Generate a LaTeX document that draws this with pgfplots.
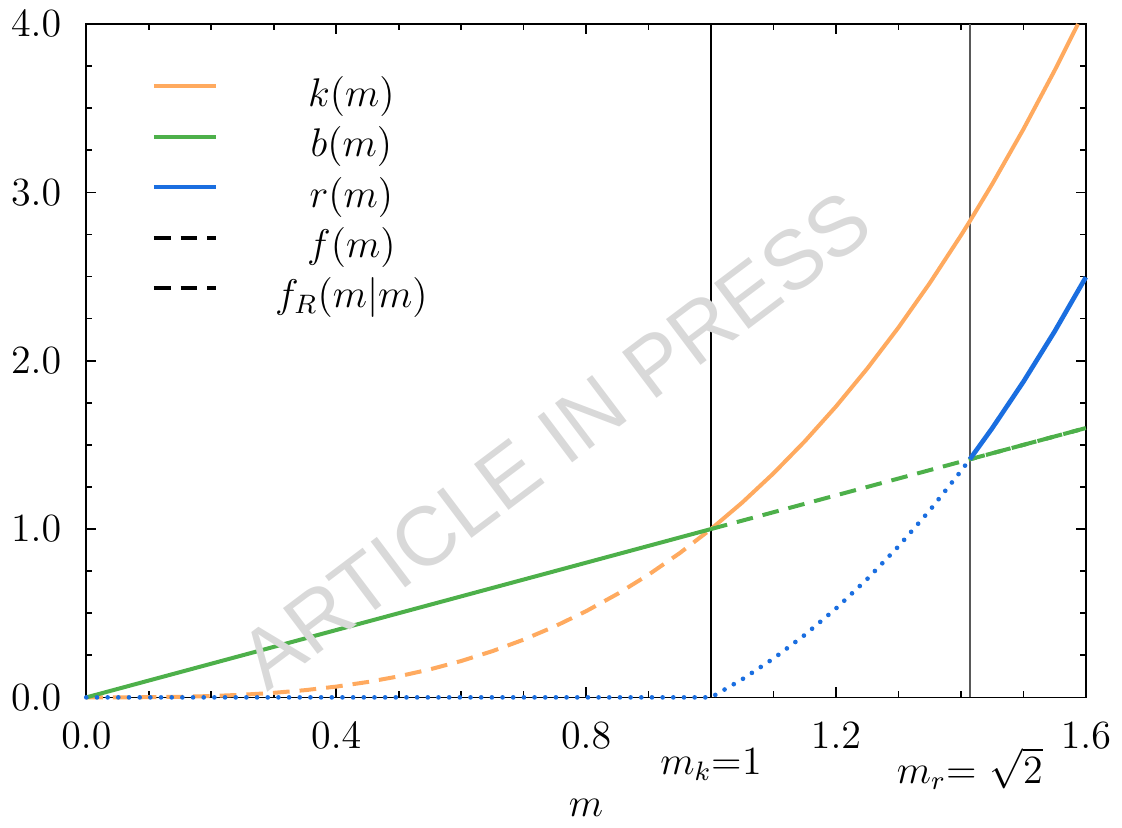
\documentclass[border=0pt]{standalone}
\usepackage{fontspec}
\newfontfamily\wmfont{Liberation Sans}
\usepackage{pgfplots}
\pgfplotsset{compat=1.18}

\definecolor{korange}{RGB}{255,170,95}
\definecolor{bgreen}{RGB}{77,176,74}
\definecolor{rblue}{RGB}{26,110,224}

\begin{document}
\begin{tikzpicture}[font=\fontsize{12}{14}\selectfont]
\begin{axis}[
    scale only axis,
    width=299.7pt, height=201.9pt,
    xmin=0, xmax=1.6, ymin=0, ymax=4,
    clip=false,
    axis line style={line width=0.5pt},
    xtick={0,0.4,0.8,1.2,1.6},
    ytick={0,1,2,3,4},
    minor x tick num=3,
    minor y tick num=3,
    tick align=inside,
    major tick length=3pt,
    minor tick length=1.8pt,
    tick style={line width=0.5pt, black},
    /pgf/number format/.cd, fixed, fixed zerofill, precision=1, /pgfplots/.cd,
    ticklabel style={font=\fontsize{12}{14}\selectfont},
    xticklabel style={yshift=-4pt},
    yticklabel style={xshift=-4pt},
    extra x ticks={1,1.41421},
    extra x tick labels={$m_k$=1, $m_r$= $\sqrt{2}$},
    extra x tick style={tick label style={yshift=-7.5pt}},
    xlabel={$m$},
    xlabel style={yshift=4pt},
    legend cell align=center,
    legend style={draw=none, fill=none, at={(rel axis cs:0.055,0.933)}, anchor=north west,
        column sep=17.1pt, row sep=3.1pt,
        font=\fontsize{12}{14}\selectfont,
        nodes={inner sep=0pt, text height=9pt, text depth=3pt}},
    legend image code/.code={\draw[#1] (0pt,0.3em) -- (18.6pt,0.3em);},
]
\addlegendimage{korange, line width=1.2pt}
\addlegendentry{$k(m)$}
\addlegendimage{bgreen, line width=1.2pt}
\addlegendentry{$b(m)$}
\addlegendimage{rblue, line width=1.2pt}
\addlegendentry{$r(m)$}
\addlegendimage{black, line width=1.2pt, dash pattern=on 5pt off 3pt}
\addlegendentry{$f(m)$}
\addlegendimage{black, line width=1.2pt, dash pattern=on 5pt off 3pt}
\addlegendentry{$f_R(m|m)$}

% vertical guides
\addplot[forget plot, black, line width=0.5pt] coordinates {(1,0) (1,4)};
\addplot[forget plot, black!65, line width=0.5pt] coordinates {(1.41421,0) (1.41421,4)};

% k(m): dashed below m_k, solid above
\addplot[forget plot, korange, line width=1.2pt, dash pattern=on 5pt off 3pt] coordinates {
(0,0) (0.05,0.000125) (0.1,0.001) (0.15,0.003375) (0.2,0.008) (0.25,0.015625)
(0.3,0.027) (0.35,0.042875) (0.4,0.064) (0.45,0.091125) (0.5,0.125)
(0.55,0.166375) (0.6,0.216) (0.65,0.274625) (0.7,0.343) (0.75,0.421875)
(0.8,0.512) (0.85,0.614125) (0.9,0.729) (0.95,0.857375) (1,1)};
\addplot[forget plot, korange, line width=1.2pt] coordinates {
(1,1) (1.05,1.157625) (1.1,1.331) (1.15,1.520875) (1.2,1.728) (1.25,1.953125)
(1.3,2.197) (1.35,2.460375) (1.4,2.744) (1.41421,2.8284) (1.45,3.048625)
(1.5,3.375) (1.55,3.723875) (1.5874,4.0)};

% b(m)
\addplot[forget plot, bgreen, line width=1.2pt] coordinates {(0,0) (1,1)};
\addplot[forget plot, bgreen, line width=1.2pt, dash pattern=on 5pt off 3pt] coordinates {(1,1) (1.6,1.6)};
\addplot[forget plot, bgreen, line width=1.2pt, dash pattern=on 5pt off 3pt, dash phase=3pt] coordinates {(1.41421,1.41421) (1.6,1.6)};

% r(m)
\addplot[forget plot, rblue, line width=1.4pt, line cap=round, dash pattern=on 0pt off 3.2pt] coordinates {
(0,0) (1,0) (1.05,0.107625) (1.1,0.231) (1.15,0.370875) (1.2,0.528)
(1.25,0.703125) (1.3,0.897) (1.35,1.110375) (1.4,1.344) (1.41421,1.41421)};
\addplot[forget plot, rblue, line width=1.4pt] coordinates {
(1.41421,1.41421) (1.45,1.598625) (1.5,1.875) (1.55,2.173875) (1.6,2.496)};

\node[rotate=37, text=black!15, font=\wmfont\fontsize{25}{25}\selectfont] at (rel axis cs:0.469,0.383) {ARTICLE IN PRESS};
\end{axis}
\end{tikzpicture}
\end{document}
